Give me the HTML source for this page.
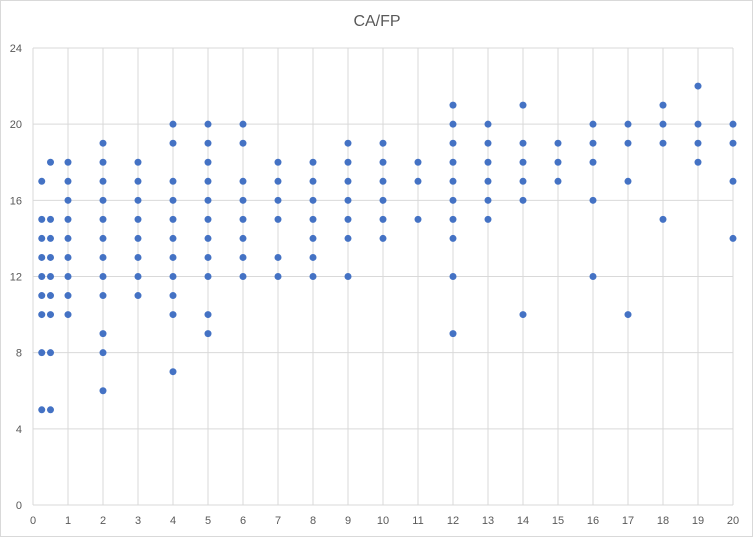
<!DOCTYPE html>
<html><head><meta charset="utf-8"><style>
html,body{margin:0;padding:0;background:#fff;}
svg{display:block;font-family:"Liberation Sans",sans-serif;}
</style></head><body>
<svg id="chart" width="753" height="537">
<rect x="0.5" y="0.5" width="752" height="536" fill="#fff" stroke="#d9d9d9"/>
<text x="377" y="26" text-anchor="middle" font-size="16" fill="#595959">CA/FP</text>
<g id="grid"></g><g id="ticks"></g><g id="points"></g>
</svg>
<script>
const xTicks=[0,1,2,3,4,5,6,7,8,9,10,11,12,13,14,15,16,17,18,19,20];
const yTicks=[0,4,8,12,16,20,24];
const xs=[0.25,0.5,1,2,3,4,5,6,7,8,9,10,11,12,13,14,15,16,17,18,19,20];
const ys=[
[5,8,10,11,12,13,14,15,17],
[5,8,10,11,12,13,14,15,18],
[10,11,12,13,14,15,16,17,18],
[6,8,9,11,12,13,14,15,16,17,18,19],
[11,12,13,14,15,16,17,18],
[7,10,11,12,13,14,15,16,17,19,20],
[9,10,12,13,14,15,16,17,18,19,20],
[12,13,14,15,16,17,19,20],
[12,13,15,16,17,18],
[12,13,14,15,16,17,18],
[12,14,15,16,17,18,19],
[14,15,16,17,18,19],
[15,17,18],
[9,12,14,15,16,17,18,19,20,21],
[15,16,17,18,19,20],
[10,16,17,18,19,21],
[17,18,19],
[12,16,18,19,20],
[10,17,19,20],
[15,19,20,21],
[18,19,20,22],
[14,17,19,20]];
const NS="http://www.w3.org/2000/svg";
const X=v=>33+v*35, Y=v=>505-v*(457/24);
const grid=document.getElementById('grid'),ticks=document.getElementById('ticks'),pts=document.getElementById('points');
function mk(tag,attrs,parent){const e=document.createElementNS(NS,tag);for(const k in attrs)e.setAttribute(k,attrs[k]);parent.appendChild(e);return e;}
xTicks.forEach(t=>{
 const l=mk('line',{x1:X(t),x2:X(t),y1:Y(24),y2:Y(0),stroke:'#d9d9d9'},grid);
 
 
 const tx=mk('text',{x:X(t),y:524,'text-anchor':'middle','font-size':11,fill:'#595959'},ticks);
 tx.textContent=t;
 
 
});
yTicks.forEach(t=>{
 const l=mk('line',{x1:X(0),x2:X(20),y1:Y(t),y2:Y(t),stroke:'#d9d9d9'},grid);
 
 
 const tx=mk('text',{x:22,y:Y(t)+4,'text-anchor':'end','font-size':11,fill:'#595959'},ticks);
 tx.textContent=t;
 
 
});
xs.forEach((x,i)=>ys[i].forEach(y=>{
 const c=mk('circle',{cx:X(x),cy:Y(y),r:3.5,fill:'#4472c4'},pts);
 
 
}));
</script>
</body></html>
